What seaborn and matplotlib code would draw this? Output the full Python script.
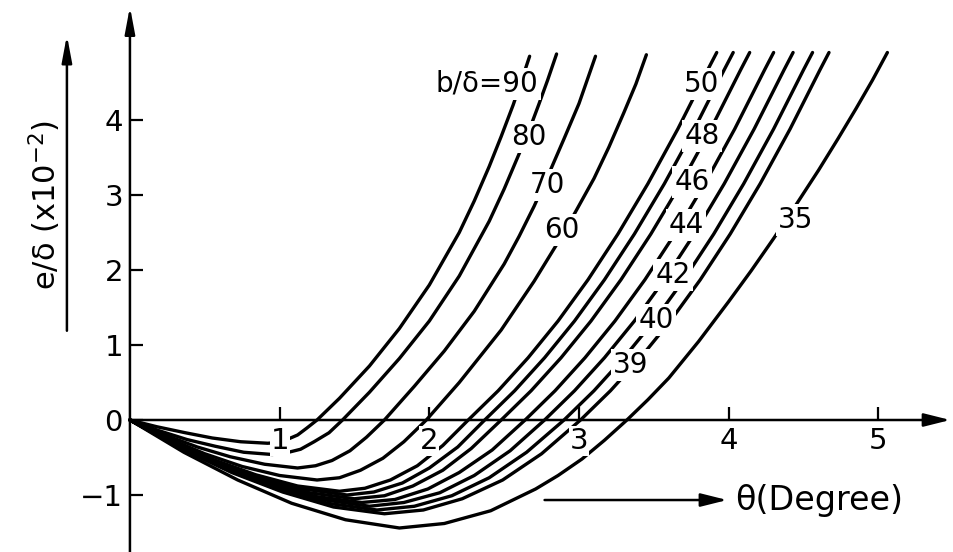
import matplotlib
matplotlib.use("Agg")
import matplotlib.pyplot as plt
import seaborn as sns
import pandas as pd

# ─────────────────────────────────────────────
# Curves: theta (degree) vs e/delta (x10^-2)
theta_90 = [0, 0.18, 0.37, 0.55, 0.74, 0.92, 0.99, 1.05, 1.12, 1.18, 1.25, 1.4, 1.6, 1.8, 2.0, 2.2, 2.3, 2.4, 2.48, 2.56, 2.62, 2.67]
e_90 = [0, -0.09, -0.17, -0.24, -0.29, -0.31, -0.30, -0.26, -0.20, -0.11, 0, 0.29, 0.72, 1.22, 1.8, 2.5, 2.92, 3.38, 3.78, 4.2, 4.55, 4.85]

theta_80 = [0, 0.19, 0.38, 0.57, 0.76, 0.95, 1.04, 1.14, 1.23, 1.33, 1.42, 1.6, 1.8, 2.0, 2.2, 2.4, 2.5, 2.6, 2.67, 2.73, 2.79, 2.85]
e_80 = [0, -0.14, -0.26, -0.35, -0.43, -0.46, -0.44, -0.39, -0.29, -0.17, 0, 0.37, 0.82, 1.32, 1.92, 2.65, 3.08, 3.55, 3.88, 4.2, 4.53, 4.88]

theta_70 = [0, 0.22, 0.45, 0.67, 0.9, 1.12, 1.24, 1.35, 1.47, 1.58, 1.7, 1.9, 2.1, 2.3, 2.5, 2.6, 2.7, 2.8, 2.9, 3.0, 3.11]
e_70 = [0, -0.19, -0.36, -0.49, -0.59, -0.64, -0.61, -0.54, -0.41, -0.23, 0, 0.45, 0.92, 1.45, 2.08, 2.45, 2.85, 3.29, 3.75, 4.22, 4.85]

theta_60 = [0, 0.25, 0.5, 0.75, 1.0, 1.25, 1.4, 1.54, 1.69, 1.83, 1.98, 2.2, 2.48, 2.7, 2.9, 3.1, 3.2, 3.3, 3.38, 3.45]
e_60 = [0, -0.24, -0.45, -0.62, -0.74, -0.8, -0.77, -0.67, -0.51, -0.29, 0, 0.5, 1.2, 1.85, 2.5, 3.22, 3.64, 4.1, 4.48, 4.87]

theta_50 = [0, 0.28, 0.56, 0.84, 1.12, 1.4, 1.57, 1.74, 1.92, 2.09, 2.26, 2.46, 2.66, 2.86, 3.06, 3.26, 3.46, 3.66, 3.86, 3.92]
e_50 = [0, -0.29, -0.53, -0.73, -0.88, -0.95, -0.91, -0.8, -0.61, -0.34, 0, 0.39, 0.83, 1.32, 1.87, 2.48, 3.15, 3.88, 4.67, 4.9]

theta_48 = [0, 0.29, 0.58, 0.87, 1.16, 1.45, 1.63, 1.82, 2.0, 2.19, 2.37, 2.57, 2.77, 2.97, 3.17, 3.37, 3.57, 3.77, 3.97, 4.03]
e_48 = [0, -0.3, -0.56, -0.77, -0.92, -1.0, -0.96, -0.84, -0.64, -0.36, 0, 0.39, 0.83, 1.32, 1.87, 2.48, 3.15, 3.88, 4.67, 4.9]

theta_46 = [0, 0.3, 0.6, 0.9, 1.2, 1.5, 1.7, 1.89, 2.09, 2.28, 2.48, 2.68, 2.88, 3.08, 3.28, 3.48, 3.68, 3.88, 4.08, 4.14]
e_46 = [0, -0.32, -0.59, -0.81, -0.97, -1.05, -1.01, -0.88, -0.67, -0.38, 0, 0.39, 0.83, 1.32, 1.87, 2.48, 3.15, 3.88, 4.67, 4.9]

theta_44 = [0, 0.31, 0.62, 0.93, 1.24, 1.55, 1.77, 1.99, 2.2, 2.42, 2.64, 2.84, 3.04, 3.24, 3.44, 3.64, 3.84, 4.04, 4.24, 4.3]
e_44 = [0, -0.33, -0.61, -0.85, -1.02, -1.1, -1.06, -0.92, -0.7, -0.4, 0, 0.39, 0.83, 1.32, 1.87, 2.48, 3.15, 3.88, 4.67, 4.9]

theta_42 = [0, 0.32, 0.64, 0.96, 1.28, 1.6, 1.83, 2.07, 2.3, 2.54, 2.77, 2.97, 3.17, 3.37, 3.57, 3.77, 3.97, 4.17, 4.37, 4.43]
e_42 = [0, -0.35, -0.64, -0.88, -1.06, -1.15, -1.1, -0.97, -0.74, -0.41, 0, 0.39, 0.83, 1.32, 1.87, 2.48, 3.15, 3.88, 4.67, 4.9]

theta_40 = [0, 0.33, 0.66, 0.99, 1.32, 1.65, 1.9, 2.15, 2.4, 2.65, 2.9, 3.1, 3.3, 3.5, 3.7, 3.9, 4.1, 4.3, 4.5, 4.56]
e_40 = [0, -0.36, -0.67, -0.92, -1.11, -1.2, -1.15, -1.01, -0.77, -0.43, 0, 0.39, 0.83, 1.32, 1.87, 2.48, 3.15, 3.88, 4.67, 4.9]

theta_39 = [0, 0.34, 0.68, 1.02, 1.36, 1.7, 1.96, 2.22, 2.49, 2.75, 3.01, 3.21, 3.41, 3.61, 3.81, 4.01, 4.21, 4.41, 4.61, 4.67]
e_39 = [0, -0.38, -0.7, -0.96, -1.16, -1.25, -1.2, -1.05, -0.8, -0.45, 0, 0.39, 0.83, 1.32, 1.87, 2.48, 3.15, 3.88, 4.67, 4.9]

theta_35 = [0, 0.36, 0.72, 1.08, 1.44, 1.8, 2.1, 2.41, 2.71, 2.86, 3.02, 3.17, 3.32, 3.46, 3.6, 3.8, 4.0,
            4.15, 4.3, 4.45, 4.6, 4.73, 4.85, 4.96, 5.06]
e_35 = [0, -0.43, -0.8, -1.11, -1.33, -1.44, -1.38, -1.21, -0.92, -0.74, -0.52, -0.27, 0, 0.27, 0.56, 1.05, 1.58,
        1.99, 2.42, 2.87, 3.33, 3.75, 4.15, 4.53, 4.9]

b_ratio = ["90", "80", "70", "60", "50", "48", "46", "44", "42", "40", "39", "35"]
all_theta = [theta_90, theta_80, theta_70, theta_60, theta_50, theta_48,
             theta_46, theta_44, theta_42, theta_40, theta_39, theta_35]
all_e = [e_90, e_80, e_70, e_60, e_50, e_48, e_46, e_44, e_42, e_40, e_39, e_35]

# curve labels and where they sit
label_text = ["b/δ=90", "80", "70", "60", "50", "48", "46", "44", "42", "40", "39", "35"]
label_theta = [2.385, 2.665, 2.786, 2.886, 3.821, 3.821, 3.754, 3.714, 3.627, 3.514, 3.347, 4.449]
label_e = [4.48, 3.77, 3.13, 2.53, 4.48, 3.79, 3.17, 2.6, 1.93, 1.33, 0.73, 2.67]

x_ticks = [1, 2, 3, 4, 5]
y_ticks = [-1, 0, 1, 2, 3, 4]

sns.set_theme(style="white")
plt.rcParams["font.family"] = ["DejaVu Sans"]

frames = []
for name, th, ev in zip(b_ratio, all_theta, all_e):
    frames.append(pd.DataFrame({"theta": th, "e": ev, "b": name}))
df = pd.concat(frames, ignore_index=True)

fig = plt.figure(figsize=(9.54, 5.52), dpi=100)
ax = fig.add_axes([0, 0, 1, 1])

sns.lineplot(data=df, x="theta", y="e", units="b", estimator=None, sort=False,
             color="black", linewidth=2.4, legend=False, ax=ax)
for ln in ax.get_lines():
    ln.set_solid_joinstyle("round")

for txt, tx, ty in zip(label_text, label_theta, label_e):
    ax.text(tx, ty, txt, ha="center", va="center", fontsize=20, color="black", zorder=5,
            bbox=dict(boxstyle="square,pad=0.08", facecolor="white", edgecolor="none"))

ax.set_xlim(-0.868, 5.505)
ax.set_ylim(-1.76, 5.6)
for s in ax.spines.values():
    s.set_visible(False)
ax.spines["left"].set_position(("data", 0))
ax.spines["bottom"].set_position(("data", 0))
ax.set_xticks(x_ticks)
ax.set_yticks(y_ticks)
ax.tick_params(direction="in", length=9.5, width=1.6, labelsize=21, colors="black",
               left=True, bottom=True)
ax.tick_params(axis="x", pad=5)
ax.tick_params(axis="y", pad=5)
ax.set_axisbelow(False)
for lab in ax.get_xticklabels():
    lab.set_bbox(dict(facecolor="white", edgecolor="none", pad=0.5))
ax.set_xlabel("")
ax.set_ylabel("")
ax.grid(False)

# axes drawn as arrows
ax.annotate("", xy=(5.48, 0), xytext=(0, 0),
            arrowprops=dict(arrowstyle="-|>,head_length=0.8,head_width=0.2", lw=1.8,
                            color="black", shrinkA=0, shrinkB=0, mutation_scale=20), zorder=3)
ax.annotate("", xy=(0, 5.51), xytext=(0, -1.76),
            arrowprops=dict(arrowstyle="-|>,head_length=0.8,head_width=0.15", lw=1.8,
                            color="black", shrinkA=0, shrinkB=0, mutation_scale=20), zorder=3)

# y label with its arrow
ax.text(-0.568, 2.87, r"e/δ (x10$^{-2}$)", rotation=90, ha="center", va="center",
        fontsize=22, color="black")
ax.annotate("", xy=(-0.421, 5.13), xytext=(-0.421, 1.19),
            arrowprops=dict(arrowstyle="-|>,head_length=0.8,head_width=0.15", lw=1.8,
                            color="black", shrinkA=0, shrinkB=0, mutation_scale=20))

# x label with its arrow
ax.annotate("", xy=(3.99, -1.067), xytext=(2.77, -1.067),
            arrowprops=dict(arrowstyle="-|>,head_length=0.8,head_width=0.2", lw=1.8,
                            color="black", shrinkA=0, shrinkB=0, mutation_scale=20))
ax.text(4.04, -1.067, "θ(Degree)", ha="left", va="center", fontsize=24, color="black")

fig.savefig("out.png", dpi=100)
plt.close(fig)
